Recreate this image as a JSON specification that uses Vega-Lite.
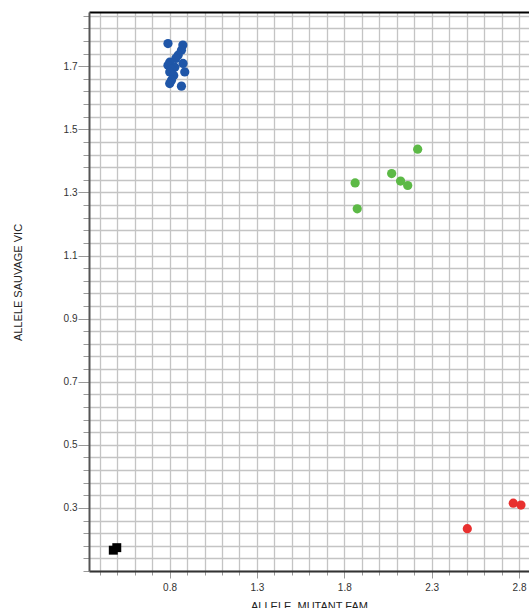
{
  "$schema": "https://vega.github.io/schema/vega-lite/v6.json",
  "width": 440,
  "height": 559,
  "autosize": "none",
  "padding": {"left": 89, "top": 12, "right": 0, "bottom": 37},
  "background": "white",
  "config": {"view": {"stroke": null}, "font": "Liberation Sans"},
  "data": {"values": [
    {"x": 0.791, "y": 1.772, "g": "wt"},
    {"x": 0.876, "y": 1.767, "g": "wt"},
    {"x": 0.868, "y": 1.751, "g": "wt"},
    {"x": 0.849, "y": 1.735, "g": "wt"},
    {"x": 0.836, "y": 1.725, "g": "wt"},
    {"x": 0.801, "y": 1.713, "g": "wt"},
    {"x": 0.791, "y": 1.703, "g": "wt"},
    {"x": 0.830, "y": 1.697, "g": "wt"},
    {"x": 0.813, "y": 1.690, "g": "wt"},
    {"x": 0.877, "y": 1.709, "g": "wt"},
    {"x": 0.887, "y": 1.682, "g": "wt"},
    {"x": 0.801, "y": 1.682, "g": "wt"},
    {"x": 0.824, "y": 1.671, "g": "wt"},
    {"x": 0.811, "y": 1.656, "g": "wt"},
    {"x": 0.801, "y": 1.645, "g": "wt"},
    {"x": 0.868, "y": 1.637, "g": "wt"},
    {"x": 2.220, "y": 1.437, "g": "het"},
    {"x": 2.071, "y": 1.360, "g": "het"},
    {"x": 2.122, "y": 1.336, "g": "het"},
    {"x": 2.163, "y": 1.322, "g": "het"},
    {"x": 1.862, "y": 1.330, "g": "het"},
    {"x": 1.874, "y": 1.248, "g": "het"},
    {"x": 2.504, "y": 0.234, "g": "mut"},
    {"x": 2.767, "y": 0.315, "g": "mut"},
    {"x": 2.811, "y": 0.309, "g": "mut"},
    {"x": 0.478, "y": 0.166, "g": "ntc"},
    {"x": 0.498, "y": 0.174, "g": "ntc"}
  ]},
  "layer": [
    {
      "transform": [{"filter": "datum.g != 'ntc'"}],
      "mark": {"type": "circle", "size": 85, "opacity": 1},
      "encoding": {
        "x": {
          "field": "x", "type": "quantitative",
          "scale": {"domain": [0.339, 2.857], "nice": false, "zero": false},
          "axis": {
            "orient": "bottom",
            "values": [0.4,0.5,0.6,0.7,0.8,0.9,1.0,1.1,1.2,1.3,1.4,1.5,1.6,1.7,1.8,1.9,2.0,2.1,2.2,2.3,2.4,2.5,2.6,2.7,2.8],
            "tickCount": 200,
            "labelExpr": "datum.value > 0.75 && abs((datum.value-0.8)/0.5 - round((datum.value-0.8)/0.5)) < 0.01 ? format(datum.value, '.1f') : ''",
            "labelOverlap": false,
            "labelFlush": false,
            "labelFontSize": 10,
            "labelColor": "#333333",
            "labelPadding": 4,
            "tickSize": {"condition": {"test": "datum.value > 0.75 && abs((datum.value-0.8)/0.5 - round((datum.value-0.8)/0.5)) < 0.01", "value": 7}, "value": 4},
            "tickColor": "#999999",
            "tickWidth": 1,
            "grid": true,
            "gridColor": "#c4c4c4",
            "gridWidth": 1.3,
            "domainColor": "#333333",
            "domainWidth": 2,
            "title": "ALLELE_MUTANT FAM",
            "titleFontSize": 11,
            "titleFontWeight": "normal",
            "titleColor": "#222222",
            "titleBaseline": "top",
            "titleY": 29
          }
        },
        "y": {
          "field": "y", "type": "quantitative",
          "scale": {"domain": [0.1, 1.872], "nice": false, "zero": false},
          "axis": {
            "values": [0.1,0.14,0.18,0.22,0.26,0.3,0.34,0.38,0.42,0.46,0.5,0.54,0.58,0.62,0.66,0.7,0.74,0.78,0.82,0.86,0.9,0.94,0.98,1.02,1.06,1.1,1.14,1.18,1.22,1.26,1.3,1.34,1.38,1.42,1.46,1.5,1.54,1.58,1.62,1.66,1.7,1.74,1.78,1.82,1.86],
            "tickCount": 200,
            "labelExpr": "datum.value > 0.29 && abs((datum.value-0.3)/0.2 - round((datum.value-0.3)/0.2)) < 0.01 ? format(datum.value, '.1f') : ''",
            "labelOverlap": false,
            "labelFontSize": 10,
            "labelColor": "#333333",
            "labelPadding": 1,
            "tickSize": {"condition": {"test": "datum.value > 0.29 && abs((datum.value-0.3)/0.2 - round((datum.value-0.3)/0.2)) < 0.01", "value": 11}, "value": 6},
            "tickColor": "#999999",
            "tickWidth": 1,
            "grid": true,
            "gridColor": "#c4c4c4",
            "gridWidth": 1.3,
            "domainColor": "#555555",
            "domainWidth": 2,
            "title": "ALLELE SAUVAGE VIC",
            "titleFontSize": 11,
            "titleFontWeight": "normal",
            "titleColor": "#222222",
            "titleAngle": 270,
            "titleAlign": "center",
            "titleBaseline": "middle",
            "titleX": -71,
            "titleY": 270
          }
        },
        "color": {
          "field": "g", "type": "nominal",
          "scale": {"domain": ["wt", "het", "mut"], "range": ["#1f56a8", "#5cb946", "#e8302f"]},
          "legend": null
        }
      }
    },
    {
      "transform": [{"filter": "datum.g == 'ntc'"}],
      "mark": {"type": "square", "size": 80, "color": "#000000", "filled": true, "opacity": 1},
      "encoding": {
        "x": {
          "field": "x", "type": "quantitative",
          "scale": {"domain": [0.339, 2.857], "nice": false, "zero": false},
          "axis": {"orient": "top", "labels": false, "ticks": false, "grid": false, "title": null, "domainColor": "#000000", "domainWidth": 2}
        },
        "y": {
          "field": "y", "type": "quantitative",
          "scale": {"domain": [0.1, 1.872], "nice": false, "zero": false}
        }
      }
    }
  ],
  "resolve": {"axis": {"x": "independent"}}
}
